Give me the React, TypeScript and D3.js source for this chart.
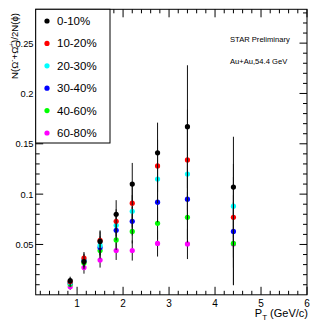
import React from "react";
import * as d3 from "d3";

const PT = [0.85, 1.15, 1.5, 1.85, 2.2, 2.75, 3.4, 4.4];
const LABELS = ["0-10%", "10-20%", "20-30%", "30-40%", "40-60%", "60-80%"];
const COLORS = ["#000000", "#ff0000", "#00ffff", "#0000ff", "#00ff00", "#ff00ff"];

const V0_10 = [0.014, 0.033, 0.053, 0.080, 0.110, 0.141, 0.167, 0.107];
const V10_20 = [0.013, 0.0365, 0.054, 0.073, 0.091, 0.128, 0.134, 0.077];
const V20_30 = [0.012, 0.035, 0.049, 0.069, 0.083, 0.115, 0.120, 0.088];
const V30_40 = [0.012, 0.034, 0.047, 0.064, 0.073, 0.092, 0.095, 0.063];
const V40_60 = [0.0106, 0.0315, 0.044, 0.0545, 0.063, 0.071, 0.077, 0.051];
const V60_80 = [0.008, 0.027, 0.0345, 0.044, 0.044, 0.051, 0.0505, 0.0505];

const E0_10 = [0.004, 0.006, 0.011, 0.014, 0.021, 0.030, 0.061, 0.050];
const E10_20 = [0.004, 0.006, 0.009, 0.012, 0.018, 0.026, 0.050, 0.040];
const E20_30 = [0.004, 0.006, 0.009, 0.011, 0.016, 0.024, 0.046, 0.042];
const E30_40 = [0.003, 0.006, 0.008, 0.010, 0.014, 0.020, 0.040, 0.036];
const E40_60 = [0.003, 0.006, 0.008, 0.010, 0.012, 0.016, 0.025, 0.041];
const E60_80 = [0.003, 0.006, 0.0075, 0.0094, 0.010, 0.013, 0.015, 0.041];

const X_MAJOR = [1, 2, 3, 4, 5, 6];
const Y_MAJOR = [0.05, 0.1, 0.15, 0.2, 0.25];

const VALUES = [V0_10, V10_20, V20_30, V30_40, V40_60, V60_80];
const ERRORS = [E0_10, E10_20, E20_30, E30_40, E40_60, E60_80];

export default function App() {
  const W = 327, H = 328;
  const L = 35.7, R = 307, T = 9.3, B = 294.8;
  const x = d3.scaleLinear().domain([0.1, 6]).range([L, R]);
  const y = d3.scaleLinear().domain([0, 0.2836]).range([B, T]);
  const font = "'Liberation Sans', Arial, Helvetica, sans-serif";

  const xMinor = d3.range(0.2, 6.0001, 0.2).filter((v) => !X_MAJOR.some((m) => Math.abs(m - v) < 1e-6));
  const yMinor = d3.range(0.01, 0.2836, 0.01).filter((v) => !Y_MAJOR.some((m) => Math.abs(m - v) < 1e-6));

  const order = [5, 4, 3, 2, 1, 0];

  const legX = L, legY = T, legW = 110 - L, legH = 143 - T;
  const rowY = (i: number) => 21 + i * 22.4;

  return (
    <svg width={W} height={H} style={{ position: "absolute", left: 0, top: 0, background: "#fff" }} fontFamily={font}>
      <rect x={0} y={0} width={W} height={H} fill="#fff" />
      {/* ticks */}
      <g stroke="#000" strokeWidth={1}>
        {X_MAJOR.map((v) => (
          <g key={"xm" + v}>
            <line x1={x(v)} x2={x(v)} y1={B} y2={B - 8} />
            <line x1={x(v)} x2={x(v)} y1={T} y2={T + 8} />
          </g>
        ))}
        {xMinor.map((v) => (
          <g key={"xn" + v}>
            <line x1={x(v)} x2={x(v)} y1={B} y2={B - 4} />
            <line x1={x(v)} x2={x(v)} y1={T} y2={T + 4} />
          </g>
        ))}
        {Y_MAJOR.map((v) => (
          <g key={"ym" + v}>
            <line x1={L} x2={L + 7.5} y1={y(v)} y2={y(v)} />
            <line x1={R} x2={R - 7.5} y1={y(v)} y2={y(v)} />
          </g>
        ))}
        {yMinor.map((v) => (
          <g key={"yn" + v}>
            <line x1={L} x2={L + 4} y1={y(v)} y2={y(v)} />
            <line x1={R} x2={R - 4} y1={y(v)} y2={y(v)} />
          </g>
        ))}
      </g>
      <rect x={L} y={T} width={R - L} height={B - T} fill="none" stroke="#000" strokeWidth={1} />
      {/* tick labels */}
      <g fontSize={10} fill="#000">
        {X_MAJOR.map((v) => (
          <text key={"xl" + v} x={x(v)} y={306.5} textAnchor="middle">{v}</text>
        ))}
        {Y_MAJOR.map((v) => (
          <text key={"yl" + v} x={33.5} y={y(v) + 3.4} textAnchor="end" fontSize={9.3}>{String(v)}</text>
        ))}
      </g>
      {/* axis titles */}
      <text x={308} y={317} textAnchor="end" fontSize={11}>
        P<tspan fontSize={8} dy={2.5}>T</tspan><tspan dy={-2.5}> (GeV/c)</tspan>
      </text>
      <text transform="translate(17.5,13) rotate(-90)" textAnchor="end" fontSize={9.6}>
        N(Ω<tspan fontSize={6.5} dy={-3.5}>-</tspan><tspan dy={3.5}>+Ω̄</tspan><tspan fontSize={6.5} dy={-3.5}>+</tspan><tspan dy={3.5}>)/2N(ϕ)</tspan>
      </text>
      <text x={230} y={41.5} fontSize={7.6}>STAR Preliminary</text>
      <text x={230} y={64} fontSize={7.6}>Au+Au,54.4 GeV</text>
      {/* data */}
      {order.map((s) => (
        <g key={"s" + s}>
          {PT.map((p, i) => (
            <line key={"e" + i} x1={x(p)} x2={x(p)} y1={y(VALUES[s][i] - ERRORS[s][i])} y2={y(VALUES[s][i] + ERRORS[s][i])} stroke="#111" strokeWidth={1} />
          ))}
          {PT.map((p, i) => (
            <circle key={"c" + i} cx={x(p)} cy={y(VALUES[s][i])} r={2.6} fill={COLORS[s]} />
          ))}
        </g>
      ))}
      {/* legend */}
      <rect x={legX} y={legY} width={legW} height={legH} fill="#fff" stroke="#000" strokeWidth={1} />
      {LABELS.map((lab, i) => (
        <g key={"lg" + i}>
          <circle cx={47} cy={rowY(i)} r={2.6} fill={COLORS[i]} />
          <text x={57} y={rowY(i) + 4} fontSize={11.5}>{lab}</text>
        </g>
      ))}
    </svg>
  );
}
